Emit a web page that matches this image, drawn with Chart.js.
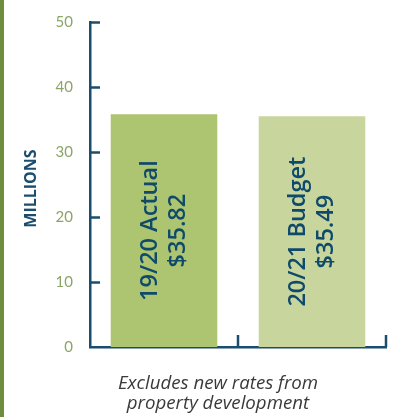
<!DOCTYPE html>
<html>
<head>
<meta charset="utf-8">
<script src="https://cdn.jsdelivr.net/npm/chart.js@4.4.0/dist/chart.umd.min.js"></script>
<style>
  html, body { margin: 0; padding: 0; background: #ffffff; }
  #wrap { position: relative; width: 405px; height: 417px; }
  #stripe { position: absolute; left: 0; top: 0; width: 4px; height: 417px; background: #6f8d3e; }
  canvas { position: absolute; left: 0; top: 0; }
</style>
</head>
<body>
<div id="wrap">
  <canvas id="grafico" width="405" height="417"></canvas>
  <div id="stripe"></div>
</div>
<script>
// Dados do gráfico
const categorias = ['19/20 Actual', '20/21 Budget'];
const valores = [35.82, 35.49];
const coresBarras = ['#adc570', '#c8d69e'];
const ticksY = [0, 10, 20, 30, 40, 50];
const tituloY = 'MILLIONS';
const nota = ['Excludes new rates from', 'property development'];

const corEixo = '#1b4d6e';
const corTexto = '#0f4a6a';

// Plugin para marcas internas dos eixos, títulos e rótulos nas barras
const marcasPlugin = {
  id: 'marcas',
  afterDatasetsDraw(chart) {
    const ctx = chart.ctx;
    const y = chart.scales.y;
    const x = chart.scales.x;
    const area = chart.chartArea;

    ctx.save();
    ctx.strokeStyle = corEixo;
    ctx.lineWidth = 2.5;
    ctx.lineCap = 'butt';

    // marcas do eixo Y apontando para dentro
    ticksY.forEach(v => {
      if (v === 0) return;
      const py = Math.round(y.getPixelForValue(v)) + 0.5;
      ctx.beginPath();
      ctx.moveTo(area.left - 1, py);
      ctx.lineTo(area.left + 10, py);
      ctx.stroke();
    });

    // marcas do eixo X entre categorias
    const passo = x.getPixelForValue(1) - x.getPixelForValue(0);
    for (let i = 0; i < categorias.length; i++) {
      const px = x.getPixelForValue(i) + passo / 2;
      ctx.beginPath();
      ctx.moveTo(px, area.bottom);
      ctx.lineTo(px, area.bottom - 12);
      ctx.stroke();
    }

    // título do eixo Y
    ctx.fillStyle = corEixo;
    ctx.font = 'bold 16px "Open Sans", sans-serif';
    ctx.textAlign = 'center';
    ctx.textBaseline = 'middle';
    ctx.save();
    ctx.translate(31, (area.top + area.bottom) / 2 + 4);
    ctx.rotate(-Math.PI / 2);
    ctx.fillText(tituloY, 0, 0);
    ctx.restore();

    // nota abaixo do gráfico
    ctx.fillStyle = '#3a3a3a';
    ctx.font = 'italic 18.7px "Open Sans", sans-serif';
    nota.forEach((linha, i) => {
      ctx.fillText(linha, 218, area.bottom + 37 + i * 20);
    });

    // rótulos rotacionados nas barras
    const meta = chart.getDatasetMeta(0);
    ctx.fillStyle = corTexto;
    ctx.font = '600 23.5px "Open Sans", sans-serif';
    meta.data.forEach((barra, i) => {
      const cy = y.getPixelForValue(valores[i] * 0.5);
      ctx.save();
      ctx.translate(barra.x, cy);
      ctx.rotate(-Math.PI / 2);
      ctx.fillText(categorias[i], 0, -14);
      ctx.fillText('$' + valores[i].toFixed(2), 0, 14);
      ctx.restore();
    });
    ctx.restore();
  }
};

function inicializarGrafico() {
  const canvas = document.getElementById('grafico');
  new Chart(canvas, {
    type: 'bar',
    data: {
      labels: categorias,
      datasets: [{
        data: valores,
        backgroundColor: coresBarras,
        borderWidth: 0,
        barPercentage: 0.72,
        categoryPercentage: 1
      }]
    },
    options: {
      responsive: false,
      devicePixelRatio: 1,
      animation: false,
      layout: { autoPadding: false, padding: { left: 0, right: 19, top: 22, bottom: 70 } },
      plugins: {
        legend: { display: false },
        tooltip: { enabled: false }
      },
      scales: {
        x: {
          grid: { display: false, drawTicks: false },
          border: { display: true, color: corEixo, width: 2.5 },
          ticks: { display: false },
          afterFit: s => { s.height = 0; s.paddingLeft = 0; s.paddingRight = 0; }
        },
        y: {
          min: 0,
          max: 50,
          afterBuildTicks: s => { s.ticks = ticksY.map(v => ({ value: v })); },
          afterFit: s => { s.width = 90; s.paddingTop = 0; s.paddingBottom = 0; },
          grid: { display: false, drawTicks: false },
          border: { display: true, color: corEixo, width: 2.5 },
          ticks: {
            color: '#8aa567',
            font: { family: 'Lato, sans-serif', size: 15 },
            padding: 17
          }
        }
      }
    },
    plugins: [marcasPlugin]
  });
}

document.addEventListener('DOMContentLoaded', inicializarGrafico);
</script>
</body>
</html>
